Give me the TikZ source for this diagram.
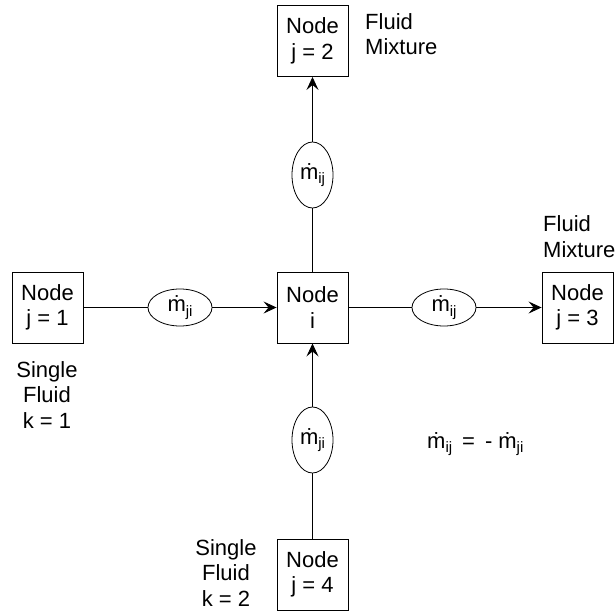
\documentclass[tikz,border=0pt]{standalone}
\usepackage{fontspec}
\setmainfont{Liberation Sans}
\usetikzlibrary{shapes.geometric,arrows.meta}
\newcommand{\mysub}[1]{\raisebox{-4.5pt}{\fontsize{15}{15}\selectfont #1}}
\newcommand{\mdot}{\.m}
\begin{document}
\begin{tikzpicture}[x=1pt,y=-1pt,
  every node/.style={font=\fontsize{22}{25.5}\selectfont},
  nodebox/.style={draw, line width=0.9pt, minimum width=71pt, minimum height=71pt, inner sep=0pt, align=center},
  flowh/.style={draw, ellipse, line width=0.8pt, minimum width=64pt, minimum height=37pt, inner sep=0pt},
  flowv/.style={draw, ellipse, line width=0.8pt, minimum width=41pt, minimum height=66pt, inner sep=0pt},
  lbl/.style={inner sep=0pt, align=center},
  lbll/.style={inner sep=0pt, align=left},
  conn/.style={line width=0.9pt},
  arr/.style={line width=0.9pt, -{Stealth[length=13pt,width=12pt,inset=5pt]}}
]
\useasboundingbox (0,0) rectangle (614,616);

\node[nodebox] (i)  at (312.5,307.5) {Node\\i};
\node[nodebox] (j1) at (47.5,307.5) {Node\\j = 1};
\node[nodebox] (j2) at (312.5,41) {Node\\j = 2};
\node[nodebox] (j3) at (577.5,307.5) {Node\\j = 3};
\node[nodebox] (j4) at (312.5,574.5) {Node\\j = 4};

\node[flowh] (e1) at (180,307.5) {\mdot\mysub{ji}};
\node[flowh] (e3) at (444,307.5) {\mdot\mysub{ij}};
\node[flowv] (e2) at (312.5,175) {\mdot\mysub{ij}};
\node[flowv] (e4) at (312.5,440) {\mdot\mysub{ji}};

\draw[conn] (j1) -- (e1);
\draw[arr] (e1) -- (i);
\draw[conn] (i) -- (e3);
\draw[arr] (e3) -- (j3);
\draw[conn] (i) -- (e2);
\draw[arr] (e2) -- (j2);
\draw[conn] (j4) -- (e4);
\draw[arr] (e4) -- (i);

\node[lbll, anchor=west] (fm1) at (365,34) {Fluid\\Mixture};
\node[lbll, anchor=west] (fm2) at (543,236.5) {Fluid\\Mixture};
\node[lbl] (sf1) at (47,395) {Single\\Fluid\\k = 1};
\node[lbl] (sf2) at (226,573) {Single\\Fluid\\k = 2};
\node[inner sep=0pt, anchor=base west] (eq) at (427,448) {\mdot\mysub{ij}\hspace{10pt}=\hspace{10pt}-\hspace{6pt}\mdot\mysub{ji}};
\end{tikzpicture}
\end{document}
